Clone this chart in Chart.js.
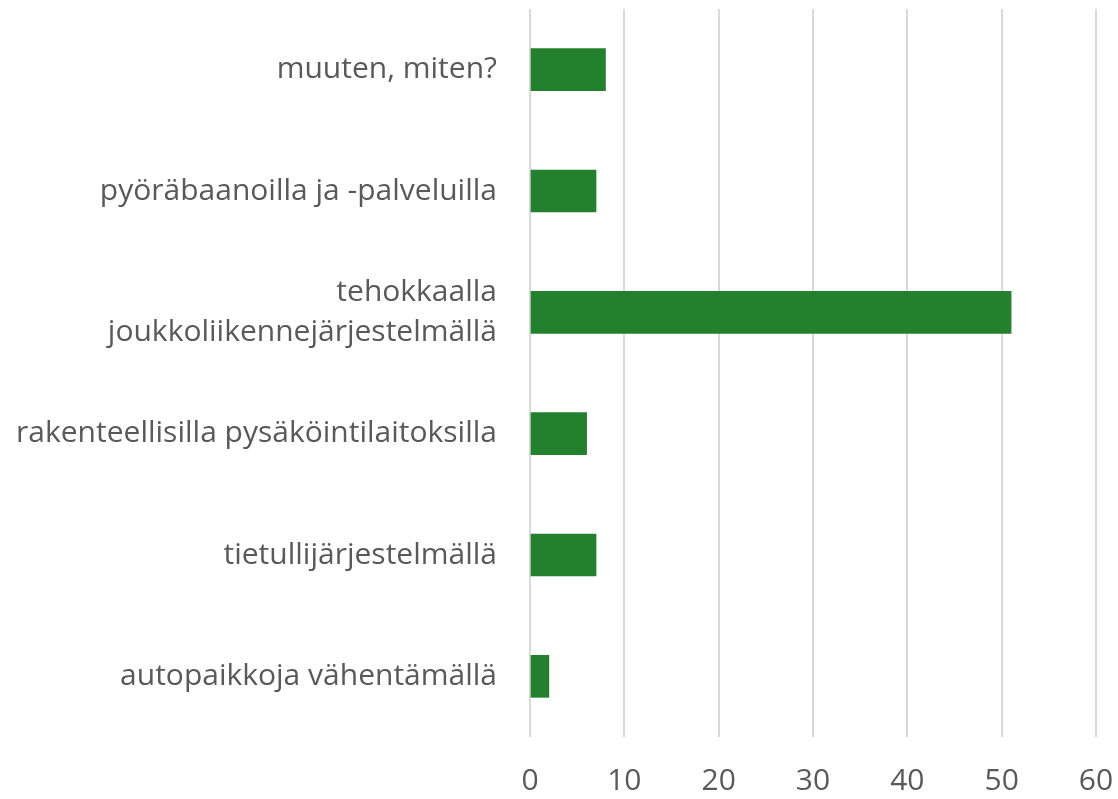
<!DOCTYPE html>
<html>
<head>
<meta charset="utf-8">
<script src="https://cdn.jsdelivr.net/npm/chart.js@4"></script>
<style>
html,body{margin:0;padding:0;background:#fff;}
#wrap{width:1118px;height:799px;position:relative;}
</style>
</head>
<body>
<div id="wrap"><canvas id="c" width="1118" height="799"></canvas></div>
<script>
const categories = [
  "muuten, miten?",
  "pyöräbaanoilla ja -palveluilla",
  ["tehokkaalla", "joukkoliikennejärjestelmällä"],
  "rakenteellisilla pysäköintilaitoksilla",
  "tietullijärjestelmällä",
  "autopaikkoja vähentämällä"
];
const values = [8, 7, 51, 6, 7, 2];
const xTicks = [0, 10, 20, 30, 40, 50, 60];

const font = "'Open Sans', 'Noto Sans', sans-serif";
new Chart(document.getElementById('c'), {
  type: 'bar',
  data: {
    labels: categories,
    datasets: [{
      data: values,
      backgroundColor: '#23802D',
      borderWidth: 0,
      barThickness: 42
    }]
  },
  options: {
    indexAxis: 'y',
    responsive: false,
    animation: false,
    layout: { padding: { top: 9, right: 22, bottom: 0, left: 0 } },
    plugins: { legend: { display: false }, tooltip: { enabled: false } },
    scales: {
      x: {
        min: 0, max: 60,
        afterBuildTicks: (axis) => { axis.ticks = xTicks.map(v => ({ value: v })); },
        grid: { color: '#D9D9D9', lineWidth: 2, drawTicks: false },
        border: { display: false },
        ticks: { color: '#595959', font: { family: font, size: 30 }, padding: 26 },
        afterFit: (axis) => { axis.height = 62; axis.paddingLeft = 0; axis.paddingRight = 0; }
      },
      y: {
        grid: { display: false, drawTicks: false },
        border: { display: false },
        afterFit: (axis) => { axis.width = 530; axis.paddingTop = 0; axis.paddingBottom = 0; },
        ticks: { color: '#595959', font: { family: font, size: 30, lineHeight: 1.33 }, padding: 33 }
      }
    }
  }
});
</script>
</body>
</html>
